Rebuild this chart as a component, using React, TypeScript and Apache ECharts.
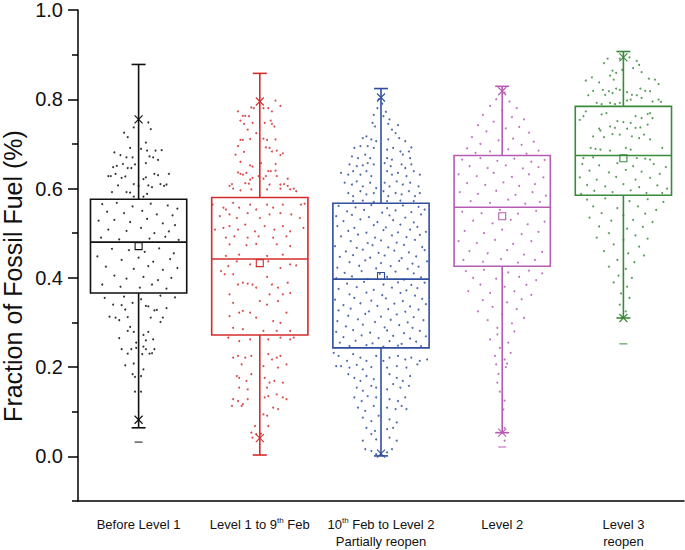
import React, { useEffect, useRef } from "react";
import * as echarts from "echarts";

const FONT = "Liberation Sans, Arial, sans-serif";

const categories = [
  "Before Level 1",
  "Level 1 to 9th Feb",
  "10th Feb to Level 2\nPartially reopen",
  "Level 2",
  "Level 3\nreopen",
];
const groupColors = ["#111111", "#d62b2b", "#2f4e9e", "#b55cb5", "#3b8a3b"];

const yLabelValues = [0, 0.2, 0.4, 0.6, 0.8, 1.0];
const yMinorValues = [-0.1, 0.1, 0.3, 0.5, 0.7, 0.9];

// box statistics
const q1 = [0.366, 0.272, 0.243, 0.426, 0.585];
const median = [0.48, 0.442, 0.397, 0.558, 0.674];
const q3 = [0.576, 0.58, 0.567, 0.674, 0.784];
const mean = [0.471, 0.433, 0.404, 0.538, 0.668];
const whiskerLow = [0.064, 0.003, 0.001, 0.053, 0.31];
const whiskerHigh = [0.878, 0.858, 0.824, 0.829, 0.907];
const p1 = [0.082, 0.041, 0.006, 0.053, 0.31];
const p99 = [0.755, 0.795, 0.804, 0.818, 0.894];
const minMark = [0.032, null, null, 0.021, 0.252];

// overlaid data points: [offset within category, value]
const pointsBefore = [
  [0.08,0.748],[-0.04,0.737],[0.10,0.733],[-0.12,0.725],[-0.09,0.715],[0.06,0.703],[-0.07,0.691],[0.02,0.689],[0.07,0.685],[0.14,0.685],[0.19,0.686],[-0.20,0.681],[-0.15,0.675],[-0.10,0.67],[-0.05,0.67],[0.09,0.672],[0.12,0.67],[0.16,0.664],[-0.21,0.648],[-0.18,0.651],[-0.13,0.655],[-0.09,0.646],[-0.06,0.646],[-0.03,0.654],[0.06,0.657],[-0.25,0.628],[-0.23,0.628],[-0.19,0.633],[-0.14,0.624],[-0.11,0.627],[0.04,0.621],[0.06,0.625],[0.13,0.633],[0.16,0.63],[0.25,0.633],[-0.17,0.607],[-0.04,0.61],[0.00,0.606],[0.08,0.607],[0.11,0.603],[0.18,0.61],[0.21,0.606],[0.23,0.609],[-0.22,0.592],[-0.10,0.592],[-0.07,0.591],[0.07,0.588],[-0.04,0.582],[0.04,0.582],
  [-0.30,0.565],[-0.18,0.568],[-0.05,0.560],[0.10,0.566],[0.24,0.562],[0.32,0.555],[-0.26,0.548],[-0.12,0.545],[0.03,0.550],[0.15,0.542],[0.28,0.540],[-0.33,0.528],[-0.20,0.530],[-0.07,0.525],[0.07,0.532],[0.20,0.522],[0.30,0.518],[-0.25,0.508],[-0.10,0.505],[0.02,0.512],[0.13,0.500],[0.25,0.504],[-0.31,0.490],[-0.16,0.486],[0.09,0.488],[0.22,0.492],[0.33,0.485],[-0.22,0.465],[-0.08,0.462],[0.05,0.458],[0.17,0.466],[0.29,0.455],[-0.34,0.448],[-0.14,0.440],[0.00,0.445],[0.12,0.436],[0.26,0.442],[-0.27,0.425],[-0.04,0.420],[0.08,0.426],[0.20,0.418],[0.32,0.422],[-0.20,0.405],[-0.10,0.398],[0.04,0.402],[0.16,0.395],[0.27,0.400],[-0.30,0.385],[-0.15,0.380],[0.01,0.378],[0.11,0.385],[0.23,0.376],
  [-0.28,0.355],[-0.12,0.358],[0.02,0.352],[0.18,0.36],[0.30,0.356],[-0.21,0.34],[-0.14,0.339],[-0.11,0.329],[-0.05,0.344],[0.06,0.337],[0.08,0.336],[0.13,0.327],[0.15,0.328],[0.23,0.332],[-0.24,0.313],[-0.19,0.311],[-0.16,0.305],[-0.09,0.312],[-0.07,0.29],[-0.09,0.281],[-0.04,0.279],[0.04,0.272],[0.08,0.279],[0.10,0.311],[0.20,0.311],[0.18,0.301],[-0.16,0.265],[0.12,0.262],[-0.02,0.255],[-0.14,0.24],[-0.09,0.23],[-0.06,0.24],[-0.02,0.243],[0.03,0.229],[0.06,0.24],[0.06,0.26],[0.04,0.246],[0.09,0.23],[0.11,0.231],[0.13,0.24],[-0.11,0.204],[-0.04,0.208],[0.04,0.195],[-0.05,0.184],[-0.03,0.178],[0.02,0.18],[-0.03,0.145],[0.02,0.145],
];

const pointsLevel1 = [
  [0.13,0.797],[-0.07,0.782],[-0.05,0.78],[0.03,0.78],[0.07,0.78],[0.17,0.785],[0.10,0.773],[-0.18,0.773],[-0.14,0.763],[-0.12,0.763],[-0.09,0.762],[-0.16,0.752],[-0.13,0.745],[-0.06,0.747],[0.04,0.747],[0.09,0.752],[0.10,0.745],[0.12,0.739],[-0.10,0.732],[-0.03,0.724],[-0.16,0.709],[-0.14,0.709],[-0.08,0.711],[0.03,0.712],[0.06,0.709],[0.13,0.71],[0.05,0.692],[0.08,0.691],[0.10,0.683],[0.14,0.685],[-0.18,0.695],[-0.20,0.676],[-0.13,0.682],[0.17,0.675],[0.19,0.679],[-0.16,0.66],[-0.08,0.652],[-0.06,0.649],[0.01,0.657],[0.13,0.655],[-0.11,0.635],[-0.18,0.636],[-0.16,0.633],[-0.14,0.631],[0.07,0.639],[0.09,0.639],[0.13,0.64],[0.14,0.628],[-0.06,0.624],[-0.01,0.628],[0.03,0.622],[0.05,0.628],[-0.23,0.61],[-0.25,0.606],[-0.12,0.612],[-0.08,0.62],[-0.09,0.611],[0.08,0.609],[0.17,0.609],[0.20,0.61],[0.23,0.622],[0.23,0.606],[0.28,0.6],[0.30,0.594],[-0.22,0.6],[-0.16,0.596],[-0.07,0.598],[0.06,0.598],[0.17,0.6],[0.25,0.598],
  [-0.39,0.564],[-0.30,0.557],[-0.28,0.553],[-0.22,0.568],[-0.17,0.557],[-0.08,0.564],[-0.03,0.553],[0.06,0.564],[0.11,0.557],[0.19,0.564],[0.34,0.564],[0.37,0.566],[-0.33,0.538],[-0.25,0.542],[-0.19,0.534],[-0.10,0.545],[0.00,0.534],[0.08,0.542],[0.17,0.545],[0.26,0.542],[0.33,0.534],[-0.37,0.508],[-0.30,0.512],[-0.25,0.516],[-0.18,0.508],[-0.12,0.519],[-0.04,0.504],[0.04,0.516],[0.12,0.508],[0.19,0.516],[0.25,0.504],[0.36,0.512],[-0.28,0.49],[-0.21,0.493],[-0.10,0.49],[-0.01,0.493],[0.11,0.49],[0.22,0.493],
  [-0.25,0.475],[-0.11,0.473],[-0.03,0.476],[0.14,0.475],[0.25,0.471],[-0.17,0.452],[0.06,0.449],[0.19,0.452],[-0.28,0.449],[-0.26,0.426],[-0.19,0.437],[-0.08,0.43],[0.07,0.437],[0.17,0.422],[0.25,0.43],[0.30,0.428],[-0.32,0.415],[-0.29,0.408],[-0.22,0.408],[-0.25,0.363],[-0.22,0.344],[-0.18,0.385],[-0.14,0.389],[-0.10,0.387],[-0.06,0.385],[-0.03,0.378],[0.06,0.402],[0.10,0.385],[0.08,0.363],[0.15,0.378],[0.19,0.363],[0.23,0.389],[0.25,0.366],[0.15,0.348],[0.06,0.34],[0.00,0.348],[-0.25,0.314],[-0.17,0.322],[-0.14,0.326],[-0.08,0.322],[-0.03,0.311],[0.11,0.303],[0.17,0.299],[0.22,0.322],[-0.22,0.288],[-0.14,0.285],[0.03,0.281],[0.14,0.281],[0.25,0.281],
  [-0.26,0.266],[-0.17,0.258],[-0.08,0.262],[0.07,0.262],[0.17,0.266],[0.25,0.262],[0.28,0.266],[-0.22,0.221],[-0.18,0.225],[-0.12,0.221],[-0.07,0.225],[0.07,0.229],[0.10,0.217],[0.14,0.221],[0.17,0.225],[-0.15,0.206],[0.03,0.202],[0.15,0.199],[0.22,0.206],[-0.19,0.18],[-0.17,0.176],[-0.11,0.169],[-0.07,0.184],[0.04,0.176],[0.08,0.165],[0.12,0.169],[0.19,0.165],[-0.17,0.154],[-0.10,0.15],[0.06,0.154],[-0.22,0.128],[-0.18,0.124],[-0.10,0.128],[0.04,0.132],[0.07,0.135],[0.14,0.139],[0.19,0.132],[0.22,0.128],[-0.23,0.113],[-0.15,0.113],[-0.14,0.117],[0.11,0.109],[0.15,0.106],[0.03,0.094],[0.06,0.091],[-0.04,0.068],[0.07,0.068],[-0.07,0.053],[-0.03,0.05],[0.01,0.051],[-0.06,0.042],
];

const pointsFeb = [
  [-0.03,0.78],[0.04,0.772],[-0.02,0.80],[0.02,0.762],[-0.06,0.765],[0.07,0.755],[0.01,0.79],
  [-0.07,0.747],[-0.05,0.739],[0.06,0.745],[0.09,0.732],[0.14,0.742],[0.12,0.724],[-0.12,0.717],[-0.08,0.71],[-0.15,0.713],[-0.04,0.706],[0.06,0.71],[0.15,0.713],[0.20,0.706],[-0.22,0.691],[-0.17,0.695],[-0.11,0.695],[-0.06,0.691],[0.05,0.687],[0.10,0.691],[0.16,0.683],[0.23,0.683],[0.25,0.692],[-0.24,0.672],[-0.19,0.668],[-0.13,0.676],[-0.09,0.668],[0.05,0.668],[0.09,0.665],[0.18,0.676],[0.24,0.668],[-0.26,0.654],[-0.20,0.65],[-0.15,0.652],[-0.11,0.657],[-0.06,0.654],[0.03,0.657],[0.08,0.65],[0.17,0.654],[0.20,0.646],[0.25,0.654],[-0.33,0.635],[-0.27,0.631],[-0.23,0.639],[-0.17,0.631],[-0.12,0.639],[-0.08,0.628],[0.05,0.639],[0.09,0.631],[0.14,0.635],[0.21,0.628],[0.27,0.639],[0.32,0.631],[-0.30,0.613],[-0.24,0.609],[-0.20,0.616],[-0.15,0.605],[-0.09,0.613],[-0.04,0.601],[0.03,0.613],[0.07,0.605],[0.13,0.616],[0.18,0.609],[0.24,0.613],[0.31,0.605],[-0.27,0.59],[-0.23,0.583],[-0.17,0.594],[-0.12,0.587],[-0.06,0.59],[0.02,0.594],[0.06,0.583],[0.12,0.59],[0.17,0.587],[0.23,0.594],[0.28,0.583],[0.32,0.59],[-0.23,0.572],[-0.15,0.573],[-0.06,0.57],[0.05,0.572],[0.16,0.573],[0.27,0.572],
  [-0.35,0.561],[-0.21,0.558],[-0.08,0.563],[0.05,0.556],[0.18,0.562],[0.31,0.559],[-0.28,0.549],[-0.14,0.552],[0.01,0.546],[0.12,0.551],[0.25,0.547],[0.36,0.553],[-0.37,0.538],[-0.24,0.541],[-0.10,0.536],[0.07,0.540],[0.20,0.535],[0.33,0.542],[-0.31,0.527],[-0.17,0.531],[-0.03,0.525],[0.10,0.529],[0.27,0.524],[-0.36,0.516],[-0.22,0.512],[-0.06,0.518],[0.04,0.513],[0.16,0.519],[0.30,0.514],[-0.27,0.505],[-0.12,0.501],[0.02,0.507],[0.14,0.502],[0.24,0.508],[0.37,0.503],[-0.33,0.493],[-0.19,0.497],[-0.05,0.490],[0.09,0.495],[0.21,0.491],[0.32,0.496],[-0.25,0.482],[-0.11,0.478],[0.00,0.484],[0.13,0.479],[0.28,0.485],[-0.38,0.471],[-0.20,0.467],[-0.07,0.473],[0.06,0.468],[0.19,0.474],[0.34,0.469],[-0.29,0.459],[-0.15,0.463],[-0.02,0.456],[0.11,0.461],[0.23,0.457],[0.36,0.462],[-0.34,0.447],[-0.23,0.451],[-0.09,0.445],[0.03,0.450],[0.17,0.444],[0.29,0.448],[-0.26,0.435],[-0.13,0.439],[0.00,0.433],[0.15,0.438],[0.26,0.432],[0.38,0.437],[-0.36,0.423],[-0.18,0.427],[-0.04,0.421],[0.08,0.426],[0.22,0.420],[0.31,0.425],[-0.30,0.411],[-0.16,0.415],[-0.01,0.409],[0.12,0.414],[0.27,0.410],[-0.37,0.399],[-0.24,0.403],[-0.11,0.397],[0.05,0.402],[0.19,0.396],[0.33,0.401],[-0.28,0.387],[-0.14,0.391],[0.02,0.385],[0.14,0.390],[0.25,0.384],[0.36,0.389],[-0.35,0.375],[-0.20,0.379],[-0.06,0.373],[0.09,0.378],[0.21,0.372],[0.30,0.377],[-0.26,0.363],[-0.12,0.367],[0.01,0.361],[0.16,0.366],[0.28,0.360],[-0.38,0.351],[-0.22,0.355],[-0.08,0.349],[0.04,0.354],[0.18,0.348],[0.34,0.353],[-0.31,0.339],[-0.17,0.343],[-0.03,0.337],[0.11,0.342],[0.24,0.336],[0.37,0.341],[-0.35,0.327],[-0.25,0.331],[-0.10,0.325],[0.06,0.330],[0.20,0.324],[0.31,0.329],[-0.27,0.315],[-0.13,0.319],[0.00,0.313],[0.13,0.318],[0.27,0.312],[-0.36,0.303],[-0.19,0.307],[-0.05,0.301],[0.08,0.306],[0.22,0.300],[0.35,0.305],[-0.29,0.291],[-0.15,0.295],[0.03,0.289],[0.15,0.294],[0.26,0.288],[-0.37,0.279],[-0.23,0.283],[-0.09,0.277],[0.05,0.282],[0.19,0.276],[0.32,0.281],[-0.31,0.267],[-0.16,0.271],[-0.02,0.265],[0.10,0.270],[0.24,0.264],[0.37,0.269],[-0.34,0.255],[-0.21,0.259],[-0.07,0.253],[0.07,0.258],[0.17,0.252],[0.29,0.257],[-0.26,0.247],[-0.12,0.249],[0.02,0.246],[0.14,0.248],[0.33,0.247],
  [-0.39,0.232],[-0.35,0.225],[-0.33,0.202],[-0.28,0.214],[-0.23,0.229],[-0.17,0.221],[-0.12,0.214],[-0.04,0.225],[0.02,0.214],[0.07,0.221],[0.14,0.225],[0.20,0.217],[0.25,0.221],[0.32,0.214],[0.38,0.217],[-0.37,0.202],[-0.26,0.199],[-0.20,0.205],[-0.15,0.195],[-0.08,0.2],[0.05,0.199],[0.13,0.202],[0.21,0.199],[0.30,0.206],[-0.27,0.184],[-0.22,0.176],[-0.17,0.169],[-0.12,0.18],[-0.06,0.173],[0.07,0.184],[0.13,0.176],[0.18,0.169],[0.24,0.18],[-0.20,0.154],[-0.15,0.147],[-0.08,0.158],[-0.04,0.154],[0.05,0.15],[0.10,0.162],[0.16,0.154],[0.23,0.158],[-0.22,0.132],[-0.16,0.124],[-0.11,0.135],[-0.04,0.132],[0.07,0.128],[0.14,0.124],[0.20,0.132],[-0.19,0.109],[-0.13,0.102],[-0.06,0.113],[0.05,0.109],[0.12,0.106],[0.17,0.113],[0.21,0.106],[-0.15,0.087],[-0.08,0.079],[-0.02,0.091],[0.07,0.083],[0.13,0.076],[-0.12,0.064],[-0.05,0.057],[0.05,0.061],[0.10,0.064],[-0.15,0.035],[-0.08,0.05],[-0.04,0.038],[0.07,0.042],[0.13,0.035],[-0.13,0.016],[-0.08,0.012],[-0.04,0.005],[0.05,0.009],[0.09,0.016],
];

const pointsLevel2 = [
  [0.02,0.815],[-0.05,0.80],[0.06,0.795],[-0.10,0.785],[0.12,0.78],[0.00,0.775],[-0.16,0.765],[0.08,0.76],[0.18,0.755],[-0.07,0.75],[-0.20,0.742],[0.14,0.738],[0.03,0.735],[-0.13,0.728],[0.22,0.725],[-0.25,0.715],[0.09,0.712],[-0.03,0.708],[0.26,0.705],[-0.18,0.70],[0.16,0.698],[-0.29,0.69],[0.05,0.688],[0.30,0.685],[-0.10,0.683],[0.20,0.678],[-0.22,0.68],
  [-0.33,0.665],[-0.18,0.668],[-0.04,0.662],[0.10,0.667],[0.24,0.66],[0.35,0.664],[-0.27,0.65],[-0.12,0.646],[0.03,0.652],[0.17,0.645],[0.30,0.648],[-0.36,0.632],[-0.21,0.628],[-0.07,0.635],[0.08,0.626],[0.22,0.632],[0.34,0.625],[-0.29,0.612],[-0.14,0.608],[0.01,0.614],[0.14,0.606],[0.27,0.61],[-0.35,0.592],[-0.20,0.588],[-0.05,0.595],[0.11,0.586],[0.25,0.592],[0.36,0.584],[-0.26,0.572],[-0.10,0.568],[0.05,0.575],[0.19,0.566],[0.31,0.57],[-0.33,0.548],[-0.17,0.545],[-0.02,0.552],[0.13,0.544],[0.28,0.55],[-0.24,0.528],[-0.08,0.522],[0.07,0.53],[0.21,0.52],[0.35,0.526],[-0.31,0.505],[-0.15,0.5],[0.00,0.508],[0.16,0.498],[0.30,0.503],[-0.36,0.482],[-0.21,0.478],[-0.06,0.485],[0.09,0.476],[0.24,0.482],[-0.27,0.46],[-0.12,0.455],[0.04,0.462],[0.18,0.452],[0.33,0.458],[-0.32,0.44],[-0.16,0.436],[-0.01,0.442],[0.13,0.434],[0.27,0.44],
  [-0.30,0.415],[-0.15,0.418],[0.05,0.412],[0.22,0.416],[0.33,0.41],[-0.24,0.40],[-0.05,0.398],[0.14,0.402],[0.28,0.395],[-0.18,0.385],[0.02,0.38],[0.20,0.384],[-0.28,0.37],[-0.10,0.366],[0.10,0.37],[0.24,0.362],[-0.16,0.35],[0.04,0.345],[0.16,0.352],[-0.08,0.335],[0.12,0.33],[-0.20,0.325],[0.00,0.318],[0.18,0.31],[-0.12,0.305],[0.08,0.298],[-0.04,0.288],[0.10,0.28],[-0.04,0.273],[-0.10,0.262],[0.05,0.255],[-0.02,0.243],[0.07,0.232],[-0.06,0.225],[0.02,0.217],[0.04,0.208],[-0.05,0.206],[0.03,0.20],[-0.03,0.185],[-0.04,0.165],[-0.02,0.145],[0.02,0.125],[0.01,0.105],[0.02,0.064],[0.02,0.035],
];

const pointsLevel3 = [
  [-0.13,0.891],[-0.16,0.881],[-0.03,0.891],[0.05,0.894],[0.11,0.886],[0.13,0.877],[-0.09,0.864],[-0.06,0.859],[-0.01,0.866],[0.08,0.87],[0.15,0.861],[-0.31,0.842],[-0.26,0.849],[-0.20,0.838],[-0.11,0.853],[-0.08,0.844],[0.21,0.846],[0.26,0.844],[0.29,0.834],[-0.25,0.819],[-0.17,0.821],[-0.15,0.81],[-0.12,0.818],[-0.09,0.814],[-0.06,0.824],[-0.03,0.821],[0.03,0.816],[0.07,0.81],[0.11,0.809],[0.14,0.824],[0.18,0.819],[0.22,0.818],[-0.29,0.809],[-0.22,0.792],[-0.18,0.789],[-0.11,0.792],[-0.07,0.789],[-0.03,0.792],[0.03,0.797],[0.06,0.799],[0.15,0.803],[0.24,0.795],[0.29,0.799],[0.31,0.794],
  [-0.31,0.773],[-0.18,0.766],[-0.14,0.769],[-0.36,0.754],[-0.33,0.762],[-0.05,0.751],[0.00,0.749],[0.06,0.747],[0.10,0.762],[0.15,0.758],[0.20,0.767],[0.22,0.769],[0.24,0.758],[-0.20,0.734],[-0.19,0.73],[-0.11,0.739],[-0.07,0.736],[0.03,0.734],[0.10,0.736],[0.14,0.737],[0.20,0.743],[-0.25,0.717],[-0.16,0.715],[-0.09,0.722],[-0.03,0.721],[0.07,0.717],[0.13,0.713],[0.17,0.721],[0.22,0.71],[-0.27,0.691],[-0.23,0.689],[-0.19,0.687],[-0.11,0.685],[0.02,0.691],[0.06,0.687],[0.32,0.691],[-0.33,0.668],[-0.25,0.67],[0.11,0.668],[0.18,0.667],[0.22,0.665],
  [-0.34,0.655],[-0.20,0.652],[-0.05,0.657],[0.08,0.650],[0.25,0.655],[0.35,0.648],[-0.28,0.64],[-0.12,0.636],[0.02,0.642],[0.15,0.638],[0.30,0.633],[-0.36,0.625],[-0.22,0.62],[-0.06,0.626],[0.10,0.62],[0.22,0.624],[-0.30,0.608],[-0.15,0.605],[0.00,0.61],[0.13,0.603],[0.28,0.607],[0.36,0.6],[-0.24,0.595],[-0.09,0.592],[0.06,0.596],[0.19,0.59],[-0.35,0.588],[0.32,0.59],
  [-0.30,0.575],[-0.15,0.578],[0.05,0.572],[0.20,0.576],[0.33,0.57],[-0.25,0.56],[-0.05,0.556],[0.12,0.56],[0.27,0.552],[-0.18,0.545],[0.00,0.54],[0.18,0.544],[-0.28,0.535],[-0.10,0.528],[0.08,0.53],[0.24,0.525],[-0.20,0.515],[0.03,0.51],[0.16,0.514],[-0.12,0.50],[0.10,0.495],[-0.22,0.49],[0.00,0.485],[0.20,0.488],[-0.08,0.475],[0.13,0.47],[-0.16,0.46],[0.04,0.455],[0.17,0.45],[-0.05,0.44],[0.09,0.435],[-0.12,0.425],[0.02,0.42],[-0.04,0.405],[0.07,0.40],[-0.08,0.39],[0.03,0.38],[-0.02,0.365],[0.05,0.355],[-0.03,0.34],[0.02,0.325],[-0.01,0.31],
];

const groupPoints = [pointsBefore, pointsLevel1, pointsFeb, pointsLevel2, pointsLevel3];

export default function App() {
  const ref = useRef<HTMLDivElement>(null);

  useEffect(() => {
    if (!ref.current) return;
    const chart = echarts.init(ref.current, null, { renderer: "svg" });
    const axisLine = { color: "#000", width: 1.5 };

    const boxData = categories.map((_, i) => [
      i, q1[i], median[i], q3[i], mean[i], whiskerLow[i], whiskerHigh[i], p1[i], p99[i],
      minMark[i] == null ? NaN : minMark[i],
    ]);

    const renderItem = (params: any, api: any) => {
      const i = params.dataIndex;
      const c = groupColors[i];
      const cx = api.coord([api.value(0), 0])[0];
      const Y = (v: number) => api.coord([0, v])[1];
      const hw = api.size([1, 0])[0] * 0.397;
      const lw = 1.6;
      const stroke = { stroke: c, lineWidth: lw, fill: "none" };
      const thin = { stroke: c, lineWidth: 1.1, fill: "none" };
      const yq1 = Y(api.value(1));
      const ymed = Y(api.value(2));
      const yq3 = Y(api.value(3));
      const ymean = Y(api.value(4));
      const ywl = Y(api.value(5));
      const ywh = Y(api.value(6));
      const yp1 = Y(api.value(7));
      const yp99 = Y(api.value(8));
      const capW = 7;
      const xs = 4;
      const children: any[] = [
        { type: "line", shape: { x1: cx, y1: yq3, x2: cx, y2: ywh }, style: stroke },
        { type: "line", shape: { x1: cx, y1: yq1, x2: cx, y2: ywl }, style: stroke },
        { type: "line", shape: { x1: cx - capW, y1: ywh, x2: cx + capW, y2: ywh }, style: stroke },
        { type: "line", shape: { x1: cx - capW, y1: ywl, x2: cx + capW, y2: ywl }, style: stroke },
        { type: "rect", shape: { x: cx - hw, y: yq3, width: 2 * hw, height: yq1 - yq3 }, style: stroke },
        { type: "line", shape: { x1: cx - hw, y1: ymed, x2: cx + hw, y2: ymed }, style: stroke },
        { type: "rect", shape: { x: cx - 3.5, y: ymean - 3.5, width: 7, height: 7 }, style: thin },
      ];
      [yp1, yp99].forEach((yy) => {
        children.push({ type: "line", shape: { x1: cx - xs, y1: yy - xs, x2: cx + xs, y2: yy + xs }, style: thin });
        children.push({ type: "line", shape: { x1: cx - xs, y1: yy + xs, x2: cx + xs, y2: yy - xs }, style: thin });
      });
      const mm = api.value(9);
      if (isFinite(mm)) {
        const ym = Y(mm);
        children.push({ type: "line", shape: { x1: cx - 4, y1: ym, x2: cx + 4, y2: ym }, style: { stroke: c, lineWidth: 1, fill: "none" } });
      }
      return { type: "group", children };
    };

    const scatterSeries = groupPoints.map((pts, i) => ({
      type: "scatter",
      xAxisIndex: 1,
      yAxisIndex: 0,
      symbol: "circle",
      symbolSize: 2,
      silent: true,
      z: 1,
      itemStyle: { color: groupColors[i], opacity: 0.85 },
      data: pts.map((p) => [i + p[0], p[1]]),
    }));

    const option: any = {
      animation: false,
      grid: { left: 78, right: 1, top: 8, bottom: 49, containLabel: false },
      xAxis: [
        {
          type: "category",
          data: categories,
          boundaryGap: true,
          axisLine: { onZero: false, lineStyle: axisLine },
          axisTick: { alignWithLabel: true, length: 9, lineStyle: axisLine },
          splitLine: { show: false },
          axisLabel: {
            interval: 0,
            margin: 15,
            fontSize: 13,
            lineHeight: 17,
            fontFamily: FONT,
            color: "#111",
            formatter: (v: string) => v.replace(/(\d)th/g, "$1{sup|th}"),
            rich: {
              sup: { fontSize: 8, lineHeight: 10, verticalAlign: "top", fontFamily: FONT, color: "#111" },
            },
          },
        },
        { type: "value", min: -0.5, max: 4.5, show: false },
      ],
      yAxis: [
        {
          type: "value",
          min: -0.1,
          max: 1.0,
          position: "left",
          axisLine: { show: true, onZero: false, lineStyle: axisLine },
          axisTick: { show: true, length: 10, customValues: yLabelValues, lineStyle: axisLine },
          axisLabel: {
            customValues: yLabelValues,
            formatter: (v: number) => v.toFixed(1),
            fontSize: 20,
            margin: 15,
            fontFamily: FONT,
            color: "#111",
          },
          splitLine: { show: false },
        },
        {
          type: "value",
          min: -0.1,
          max: 1.0,
          position: "left",
          axisLine: { show: false, onZero: false },
          axisTick: { show: true, length: 6, customValues: yMinorValues, lineStyle: axisLine },
          axisLabel: { show: false },
          splitLine: { show: false },
        },
      ],
      graphic: [
        {
          type: "text",
          x: 12.5,
          y: 276,
          rotation: Math.PI / 2,
          style: {
            text: "Fraction of Fossil Fuel (%)",
            fontSize: 25,
            fontFamily: FONT,
            fill: "#111",
            align: "center",
            verticalAlign: "middle",
          },
        },
      ],
      series: [
        ...scatterSeries,
        {
          type: "custom",
          xAxisIndex: 1,
          yAxisIndex: 0,
          z: 3,
          silent: true,
          renderItem,
          encode: { x: 0, y: 2 },
          data: boxData,
        },
      ],
    };
    chart.setOption(option);
    return () => chart.dispose();
  }, []);

  return (
    <div
      ref={ref}
      style={{ position: "fixed", left: 0, top: 0, width: 685, height: 550, background: "#fff" }}
    />
  );
}
